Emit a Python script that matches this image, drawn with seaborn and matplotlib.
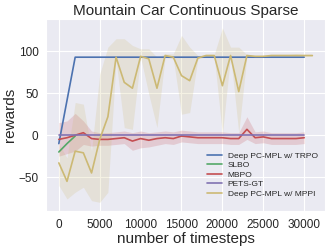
import numpy as np
import pandas as pd
import matplotlib
matplotlib.use("Agg")
import matplotlib.pyplot as plt
import seaborn as sns

# timesteps
steps = np.arange(0, 31000, 1000)          # 0 .. 30000
steps_mppi = np.arange(0, 32000, 1000)     # 0 .. 31000
steps_trpo = np.arange(0, 32000, 2000)     # 0 .. 30000

# Deep PC-MPL w/ TRPO
trpo = [-10, 93, 93, 93, 93, 93, 93, 93, 93, 93, 93, 93, 93, 93, 93, 93]

# SLBO
steps_slbo = [0, 1000, 2000]
slbo = [-20, -10, -1]

# MBPO mean and band
mbpo = [-5, -3, 0, 3, -4, -5, -5, -4, -3, -7, -4, -6, -4, -3, -4, -1,
        -2, -3, -3, -3, -3, -4, -4, 7, -3, -2, -4, -4, -4, -4, -3]
mbpo_lo = [-25, -22, -19, -11, -13, -12, -12, -11, -10, -18, -15, -14, -12, -10, -11, -8,
           -9, -10, -10, -10, -10, -11, -11, -5, -10, -9, -11, -11, -11, -11, -10]
mbpo_hi = [15, 17, 26, 17, 5, 3, 3, 4, 5, 3, 5, 3, 4, 5, 4, 6,
           5, 4, 4, 4, 4, 3, 3, 22, 4, 5, 3, 3, 3, 3, 4]

# PETS-GT
pets = [0] * len(steps)

# Deep PC-MPL w/ MPPI mean and band
mppi = [-33, -55, -19, -21, -45, -5, 22, 93, 63, 56, 94, 91, 56, 95, 93, 71,
        65, 92, 95, 95, 59, 95, 52, 95, 94, 94, 95, 95, 95, 95, 95, 95]
mppi_lo = [-60, -76, -68, -62, -78, -80, -68, 89, 9, 7, 93, 49, 9, 93, 91, 25,
           27, 91, 94, 94, 1, 95, 3, 94, 93, 93, 94, 94, 94, 94, 94, 94]
mppi_hi = [-10, -27, 39, 37, -19, 73, 105, 115, 115, 107, 103, 103, 93, 97, 97, 119,
           105, 95, 96, 96, 128, 105, 105, 96, 95, 95, 96, 96, 96, 97, 96, 96]

colors = ["#4C72B0", "#55A868", "#C44E52", "#8172B2", "#CCB974"]

sns.set_style("darkgrid")
plt.rcParams['font.family'] = ['Liberation Sans', 'DejaVu Sans']

fig = plt.figure(figsize=(3.32, 2.48), dpi=100)
ax = fig.add_axes([0.139, 0.149, 0.84, 0.774])

lw = 1.2
sns.lineplot(x=steps_trpo, y=trpo, color=colors[0], lw=lw, ax=ax, label="Deep PC-MPL w/ TRPO")
sns.lineplot(x=steps_slbo, y=slbo, color=colors[1], lw=lw, ax=ax, label="SLBO")
ax.fill_between(steps, mbpo_lo, mbpo_hi, color=colors[2], alpha=0.2, lw=0)
sns.lineplot(x=steps, y=mbpo, color=colors[2], lw=lw, ax=ax, label="MBPO")
sns.lineplot(x=steps, y=pets, color=colors[3], lw=lw, ax=ax, label="PETS-GT")
ax.fill_between(steps_mppi, mppi_lo, mppi_hi, color=colors[4], alpha=0.2, lw=0)
sns.lineplot(x=steps_mppi, y=mppi, color=colors[4], lw=lw, ax=ax, label="Deep PC-MPL w/ MPPI")

ax.set_title("Mountain Car Continuous Sparse", fontsize=11, pad=3)
ax.set_xlabel("number of timesteps", fontsize=11, labelpad=1)
ax.set_ylabel("rewards", fontsize=11, labelpad=1)
ax.set_xticks([0, 5000, 10000, 15000, 20000, 25000, 30000])
ax.set_yticks([-50, 0, 50, 100])
ax.tick_params(labelsize=8.5, pad=2)
ax.legend(loc="lower right", fontsize=6, frameon=False, handlelength=1.8,
          handletextpad=0.7, labelspacing=0.2, bbox_to_anchor=(1.0, 0.03))

fig.savefig("out.png", dpi=100)
